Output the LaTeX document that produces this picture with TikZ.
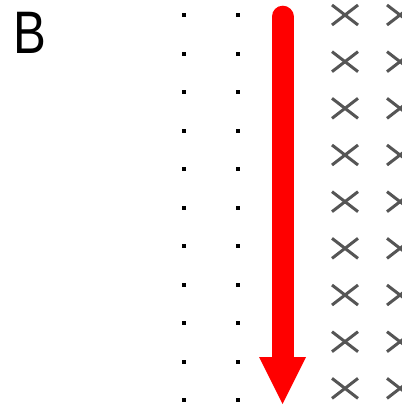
\documentclass[tikz,border=0pt]{standalone}
\usepackage{fontspec}
\setmainfont{Liberation Sans}
\definecolor{crossgray}{HTML}{555555}
\definecolor{arrowred}{HTML}{FF0000}
\tikzset{
  dotmark/.style={fill=black, draw=none},
  crossmark/.style={draw=crossgray, line width=3pt},
  bigarrow/.style={draw=arrowred, line width=22pt, line cap=round},
  arrowhead/.style={fill=arrowred, draw=none},
  label/.style={inner sep=0pt, anchor=base west, font=\fontsize{60}{60}\selectfont, xscale=0.82}
}
\begin{document}
\begin{tikzpicture}[x=1pt, y=-1pt]
\useasboundingbox (0,0) rectangle (401,406);
% label
\node[label] (lab) at (13.5,54) {B};
% dots
\foreach \k in {0,...,10} {
  \foreach \xx in {184.3,238} {
    \fill[dotmark] ({\xx-2},{15.3+38.47*\k-2}) rectangle ({\xx+2},{15.3+38.47*\k+2});
  }
}
% crosses
\foreach \k in {0,...,8} {
  \foreach \xx in {345,400} {
    \draw[crossmark] ({\xx-13},{15+46.67*\k-10}) -- ({\xx+13},{15+46.67*\k+10});
    \draw[crossmark] ({\xx-13},{15+46.67*\k+10}) -- ({\xx+13},{15+46.67*\k-10});
  }
}
% arrow
\coordinate (astart) at (282.5,16.7);
\coordinate (abase) at (282.5,357);
\coordinate (atip) at (282.5,404);
\draw[bigarrow] (astart) -- (abase);
\fill[arrowhead] ([xshift=-23.5pt]abase) -- ([xshift=23.5pt]abase) -- (atip) -- cycle;
\end{tikzpicture}
\end{document}
